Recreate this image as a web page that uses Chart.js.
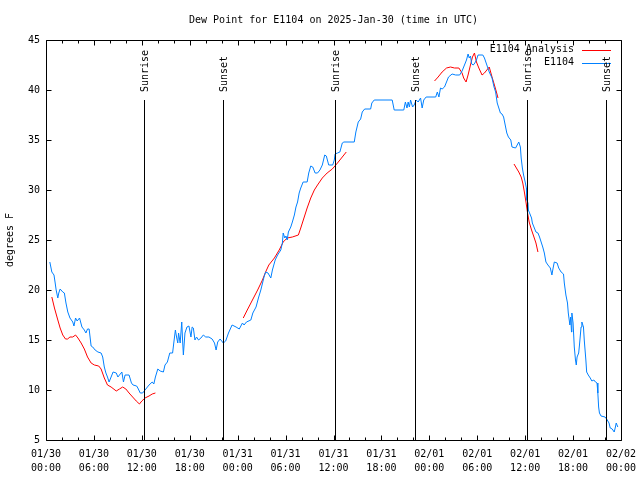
<!DOCTYPE html>
<html><head><meta charset="utf-8">
<script src="https://cdn.jsdelivr.net/npm/chart.js@4"></script>
<style>html,body{margin:0;padding:0;background:#fff}canvas{display:block}</style>
</head><body>
<canvas id="c" width="640" height="480"></canvas>
<script>
const FONT = '"DejaVu Sans Mono", "Liberation Mono", monospace';
const titleText = 'Dew Point for E1104 on 2025-Jan-30 (time in UTC)';
const yAxisTitle = 'degrees F';
const seriesNames = ['E1104 Analysis', 'E1104'];

// hours since 01/30 00:00 UTC
const blueHours = [0.48,0.73,1.0,1.15,1.27,1.48,1.6,1.77,2.1,2.3,2.5,2.73,3.0,3.35,3.5,3.7,3.9,4.2,4.5,4.8,5.0,5.2,5.4,5.65,5.85,6.15,6.5,6.9,7.1,7.3,7.5,7.7,7.9,8.2,8.4,8.8,9.0,9.2,9.5,9.7,9.9,10.4,10.7,10.9,11.35,11.5,11.8,12.1,12.4,12.7,12.9,13.3,13.5,13.7,14.0,14.3,14.7,14.9,15.2,15.5,15.85,16.0,16.2,16.35,16.5,16.6,16.8,17.0,17.1,17.2,17.4,17.65,17.9,18.15,18.3,18.45,18.65,18.85,19.1,19.4,19.7,20.0,20.4,20.8,21.1,21.3,21.5,21.8,22.0,22.2,22.5,22.85,23.3,23.8,24.2,24.6,24.8,25.1,25.65,25.9,26.3,26.6,26.9,27.3,27.5,27.8,28.15,28.35,28.7,29.0,29.4,29.6,29.7,29.9,30.05,30.2,30.35,30.65,30.85,31.1,31.3,31.5,31.7,31.9,32.2,32.7,32.9,33.15,33.4,33.7,34.0,34.3,34.6,34.9,35.1,35.4,35.9,36.1,36.2,36.5,36.8,37.1,37.3,38.6,38.8,39.1,39.4,39.6,39.9,40.65,40.8,41.1,43.35,43.6,44.8,45.0,45.2,45.35,45.5,45.65,45.9,46.1,46.35,46.6,46.9,47.1,47.3,47.6,48.8,49.0,49.2,49.4,49.6,49.9,50.15,50.4,50.85,51.3,51.8,52.1,52.3,52.65,52.85,53.0,53.15,53.3,53.5,53.7,53.9,54.1,54.7,54.9,55.2,55.5,55.85,56.1,56.3,56.5,56.7,56.9,57.1,57.3,57.5,57.7,57.9,58.2,58.35,58.8,59.0,59.2,59.4,59.5,59.65,59.8,60.0,60.15,60.2,60.35,60.4,60.65,60.8,60.9,61.15,61.35,61.6,61.8,62.0,62.2,62.4,62.6,62.85,63.15,63.35,63.5,63.65,64.0,64.2,64.5,64.8,64.9,65.1,65.3,65.4,65.6,65.7,65.8,65.85,66.0,66.15,66.3,66.4,66.5,66.7,66.8,67.0,67.1,67.3,67.4,67.6,67.7,67.9,68.15,68.35,68.6,68.8,69.0,69.1,69.2,69.3,69.5,70.0,70.2,70.5,70.65,70.9,71.15,71.3,71.4,71.6];
const blueDewF = [22.8,21.8,21.5,20.7,20.0,19.2,19.7,20.1,19.8,19.7,18.7,17.8,17.2,16.8,16.4,17.2,16.9,17.2,16.3,16.0,15.7,16.1,16.1,14.4,14.3,14.0,13.8,13.7,13.3,12.3,11.7,11.3,10.8,11.4,11.8,11.7,11.3,11.5,11.8,10.8,11.5,11.5,10.7,10.5,10.4,10.2,9.7,9.7,10.0,10.3,10.5,10.8,10.6,11.3,12.1,11.9,11.8,12.5,12.8,13.7,13.7,14.7,16.0,15.3,14.7,15.7,14.7,16.8,15.0,13.5,15.7,16.3,16.4,15.3,16.3,16.2,15.0,15.3,15.0,15.2,15.5,15.3,15.3,15.1,14.7,14.0,14.8,15.1,14.9,14.7,14.9,15.7,16.5,16.3,16.1,16.7,16.5,16.8,17.0,17.7,18.3,19.2,20.0,21.3,21.8,21.7,21.2,22.0,23.0,23.5,24.0,24.7,25.7,25.2,25.4,25.0,25.8,26.3,26.8,27.5,28.3,28.8,29.7,30.2,30.8,30.8,31.7,32.4,32.3,31.7,31.7,32.0,32.5,33.5,33.4,32.5,32.5,33.0,33.6,33.7,33.8,34.7,34.8,34.8,35.8,36.8,37.1,37.8,38.1,38.1,38.7,39.0,39.0,38.0,38.0,38.8,38.2,38.8,38.3,39.0,38.3,38.5,39.0,38.8,39.2,38.2,39.0,39.3,39.3,39.8,39.3,40.2,40.1,40.3,40.8,41.3,41.6,41.5,41.5,41.9,42.3,43.0,43.6,43.2,43.4,42.6,42.5,42.7,43.0,43.5,43.5,43.2,42.5,41.8,41.2,40.3,39.8,38.7,38.2,37.7,37.6,37.3,36.5,35.7,35.3,35.0,34.3,34.2,34.5,34.8,34.3,33.2,32.2,31.5,30.8,30.2,29.0,28.7,28.0,27.5,27.2,26.7,26.2,25.8,25.7,25.3,24.8,24.3,23.7,22.8,22.5,22.2,21.5,22.2,22.8,22.7,22.2,21.8,21.6,20.7,19.5,18.7,17.7,16.5,17.3,15.8,17.7,16.7,14.3,13.0,12.5,13.3,13.7,14.5,16.3,16.8,16.3,15.0,13.0,11.8,11.5,11.2,10.9,11.0,10.8,10.7,9.7,8.3,7.7,7.4,7.3,7.1,6.7,6.2,6.1,5.8,6.3,6.7,6.3];

// analysis series; null values break the line
const redHours = [0.73,1.06,1.48,1.77,2.1,2.44,2.7,3.0,3.35,3.7,4.0,4.4,4.8,5.2,5.65,6.06,6.6,6.9,7.3,7.7,8.15,8.8,9.2,9.6,10.0,10.4,10.85,11.3,11.7,12.0,12.4,12.9,13.3,13.7,
  19,
  24.7,25.2,25.85,26.5,27.1,27.5,27.9,28.6,29.2,29.7,30.2,30.85,31.6,31.9,32.3,32.7,33.15,33.6,34.0,34.6,35.2,35.85,36.5,37.1,37.6,
  43,
  48.65,49.1,49.6,50.15,50.65,51.15,51.7,52.1,52.3,52.6,52.85,53.15,53.4,53.65,53.9,54.2,54.6,54.9,55.2,55.5,55.85,56.15,56.4,56.6,
  57.6,
  58.6,58.9,59.2,59.5,59.7,59.9,60.1,60.3,60.5,60.8,61.1,61.35,61.6];
const redDewF = [19.3,18.2,17.0,16.2,15.5,15.1,15.1,15.3,15.3,15.5,15.2,14.7,14.1,13.3,12.7,12.5,12.4,12.1,11.2,10.5,10.3,9.9,10.1,10.3,10.1,9.7,9.3,8.9,8.6,8.9,9.2,9.4,9.6,9.7,
  null,
  17.2,18.0,19.0,20.0,21.0,21.8,22.5,23.2,24.0,24.8,25.2,25.3,25.5,26.2,27.2,28.2,29.2,30.0,30.5,31.2,31.7,32.1,32.7,33.3,33.8,
  null,
  40.9,41.3,41.8,42.2,42.3,42.2,42.2,41.7,41.2,40.8,41.5,42.5,43.3,43.7,42.8,42.2,41.5,41.7,42.0,42.3,41.3,40.5,39.8,39.2,
  null,
  32.6,32.2,31.8,31.3,30.7,29.8,28.8,27.7,26.8,26.0,25.3,24.7,23.8];

const sunriseHours = [12.3, 36.2, 60.2];
const sunsetHours = [22.2, 46.2, 70.1];

const xTickHours = [0,6,12,18,24,30,36,42,48,54,60,66,72];
const xTickDates = ['01/30','01/30','01/30','01/30','01/31','01/31','01/31','01/31','02/01','02/01','02/01','02/01','02/02'];
const xTickTimes = ['00:00','06:00','12:00','18:00','00:00','06:00','12:00','18:00','00:00','06:00','12:00','18:00','00:00'];
const yTicks = [5,10,15,20,25,30,35,40,45];

const RED = '#ff0000';
const BLUE = '#0080ff';

const blueData = blueHours.map((h, i) => ({x: h, y: blueDewF[i]}));
const redData = redHours.map((h, i) => ({x: h, y: redDewF[i]}));

const decorPlugin = {
  id: 'decor',
  afterDatasetsDraw(chart) {
    const ctx = chart.ctx;
    const a = chart.chartArea;
    const xs = chart.scales.x, ys = chart.scales.y;
    ctx.save();
    ctx.strokeStyle = '#000';
    ctx.lineWidth = 1;
    // legend
    ctx.font = '10px ' + FONT;
    ctx.textBaseline = 'middle';
    const legendItems = [[seriesNames[0], RED], [seriesNames[1], BLUE]];
    legendItems.forEach(([name, col], i) => {
      const y = 49.5 + i * 13;
      ctx.fillStyle = '#000';
      ctx.textAlign = 'right';
      ctx.fillText(name, 574, y);
      ctx.strokeStyle = col;
      ctx.beginPath();
      ctx.moveTo(582, Math.round(y) + 0.5);
      ctx.lineTo(611, Math.round(y) + 0.5);
      ctx.stroke();
    });
    ctx.strokeStyle = '#000';
    // sunrise / sunset lines
    const lineTop = a.top + (a.bottom - a.top) * 0.15;
    const marks = [];
    sunriseHours.forEach(h => marks.push([h, 'Sunrise']));
    sunsetHours.forEach(h => marks.push([h, 'Sunset']));
    marks.forEach(([h, label]) => {
      const px = Math.round(xs.getPixelForValue(h)) + 0.5;
      ctx.beginPath();
      ctx.moveTo(px, lineTop);
      ctx.lineTo(px, a.bottom);
      ctx.stroke();
      ctx.save();
      ctx.translate(px + 1, lineTop - 8);
      ctx.rotate(-Math.PI / 2);
      ctx.fillStyle = '#000';
      ctx.font = '10px ' + FONT;
      ctx.textAlign = 'left';
      ctx.textBaseline = 'middle';
      ctx.fillText(label, 0, 0);
      ctx.restore();
    });
    // frame
    const L = Math.round(a.left) + 0.5, R = Math.round(a.right) + 0.5;
    const T = Math.round(a.top) + 0.5, B = Math.round(a.bottom) + 0.5;
    ctx.beginPath();
    ctx.rect(L, T, R - L, B - T);
    ctx.stroke();
    // x ticks (every 2 h, longer every 6 h), bottom and top
    ctx.beginPath();
    for (let h = 0; h <= 72; h += 2) {
      const px = Math.round(xs.getPixelForValue(h)) + 0.5;
      const len = (h % 6 === 0) ? 5 : 3;
      ctx.moveTo(px, B); ctx.lineTo(px, B - len);
      ctx.moveTo(px, T); ctx.lineTo(px, T + len);
    }
    // y ticks left and right
    yTicks.forEach(v => {
      const py = Math.round(ys.getPixelForValue(v)) + 0.5;
      ctx.moveTo(L, py); ctx.lineTo(L + 5, py);
      ctx.moveTo(R, py); ctx.lineTo(R - 5, py);
    });
    ctx.stroke();
    // title
    ctx.fillStyle = '#000';
    ctx.font = '10px ' + FONT;
    ctx.textAlign = 'center';
    ctx.textBaseline = 'middle';
    ctx.fillText(titleText, (a.left + a.right) / 2, 20);
    ctx.restore();
  }
};

new Chart(document.getElementById('c'), {
  type: 'line',
  data: {
    datasets: [
      {label: seriesNames[1], data: blueData, borderColor: BLUE, borderWidth: 1, pointRadius: 0, tension: 0, fill: false},
      {label: seriesNames[0], data: redData, borderColor: RED, borderWidth: 1, pointRadius: 0, tension: 0, fill: false, spanGaps: false}
    ]
  },
  options: {
    responsive: false,
    animation: false,
    devicePixelRatio: 1,
    layout: {padding: {top: 40, right: 19, left: 0, bottom: 0}},
    plugins: {legend: {display: false}, title: {display: false}, tooltip: {enabled: false}},
    scales: {
      x: {
        type: 'linear', min: 0, max: 72,
        afterBuildTicks: s => { s.ticks = xTickHours.map(v => ({value: v})); },
        ticks: {
          autoSkip: false, maxRotation: 0, minRotation: 0, padding: 7, color: '#000',
          font: {family: FONT, size: 10, lineHeight: 1.4},
          callback: v => { const i = xTickHours.indexOf(v); return i < 0 ? '' : [xTickDates[i], xTickTimes[i]]; }
        },
        grid: {display: false, drawTicks: false},
        border: {display: false},
        afterFit: s => { s.height = 40; s.paddingLeft = 0; s.paddingRight = 0; }
      },
      y: {
        min: 5, max: 45,
        afterBuildTicks: s => { s.ticks = yTicks.map(v => ({value: v})); },
        ticks: {padding: 6, color: '#000', font: {family: FONT, size: 10}},
        grid: {display: false, drawTicks: false},
        border: {display: false},
        title: {display: true, text: yAxisTitle, color: '#000', font: {family: FONT, size: 10}, padding: {top: 4, bottom: 0}},
        afterFit: s => { s.width = 46; s.paddingTop = 0; s.paddingBottom = 0; }
      }
    }
  },
  plugins: [decorPlugin]
});
</script>
</body></html>
